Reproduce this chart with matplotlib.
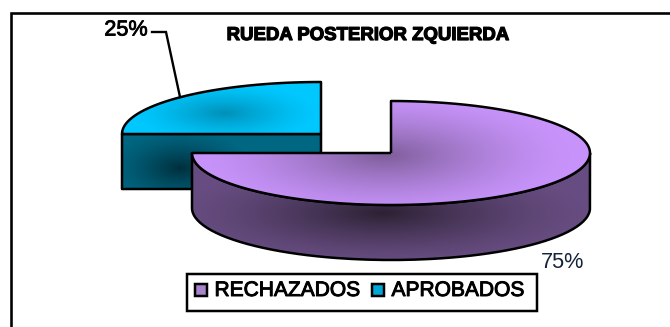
import numpy as np
import matplotlib
matplotlib.use("Agg")
import matplotlib.pyplot as plt
from matplotlib.path import Path
from matplotlib.patches import PathPatch, Rectangle
import matplotlib.patheffects as pe

categories = ["RECHAZADOS", "APROBADOS"]
values = [75, 25]
labels = ["75%", "25%"]
title = "RUEDA POSTERIOR ZQUIERDA"

centers = [(391, 153), (321, 134)]
RX, RY, DEPTH = 199, 52, 55
top_cols = [("#C793FA", "#7E5E9A"), ("#00C8FF", "#0090B8")]
side_cols = [("#664C80", "#2C2133"), ("#006782", "#002F3D")]
top_glow = [(385, 155, 185, 60), (225, 113, 95, 30)]
side_glow = [(383, 213, 200, 50), (180, 168, 75, 40)]
INK = 2.5 * 0.72

fig = plt.figure(figsize=(6.7, 3.27), dpi=100)
ax = fig.add_axes([0, 0, 1, 1])


def rgb(c):
    return np.array(matplotlib.colors.to_rgb(c))


def shade(path, colors, glow):
    gx, gy = np.meshgrid(np.arange(0, 670), np.arange(0, 327))
    d = np.hypot((gx + .5 - glow[0]) / glow[2], (gy + .5 - glow[1]) / glow[3])
    t = np.clip(1 - d, 0, 1)[..., None] ** 1.4
    im = ax.imshow(rgb(colors[0]) * (1 - t) + rgb(colors[1]) * t,
                   extent=(0, 670, 327, 0), interpolation="bilinear", zorder=z[0])
    patch = PathPatch(path, fc="none", ec="k", lw=INK, joinstyle="round", zorder=z[0] + 1)
    ax.add_patch(patch)
    im.set_clip_path(patch)
    z[0] += 2


def arc(c, a0, a1, dy=0):
    a = np.radians(np.linspace(a0, a1, 120))
    return np.c_[c[0] + RX * np.cos(a), c[1] - RY * np.sin(a) + dy]


z = [2]
# slice angles from the values, clockwise from 12 o'clock
fractions = np.array(values) / sum(values)
stops = 90 - 360 * np.cumsum(np.r_[0, fractions])
order = [1, 0]  # the far slice is painted first
for i in order:
    c = centers[i]
    a0, a1 = stops[i], stops[i + 1]
    # side wall
    if i == 0:
        front = arc(c, -180, 0)
    else:
        front = np.array([[c[0] - RX, c[1]], [c[0], c[1]]])
    wall = np.r_[front, (front + [0, DEPTH])[::-1], front[:1]]
    shade(Path(wall), side_cols[i], side_glow[i])
    # top face
    rim = arc(c, a0, a1)
    top = np.r_[[c], rim, [c]]
    shade(Path(top), top_cols[i], top_glow[i])

# frame
ax.plot([11, 11, 672], [330, 13, 13], color="k", lw=2.6 * 0.72, zorder=1,
        solid_joinstyle="miter")

# title and data labels
ax.text(368, 35.5, title, ha="center", va="center", fontsize=13.4, family="Liberation Sans",
        weight="bold", color="k", zorder=30,
        path_effects=[pe.withStroke(linewidth=0.9, foreground="k")])
ax.text(126, 30, labels[1], ha="center", va="center", fontsize=15.6, family="Liberation Sans",
        color="k", zorder=30, path_effects=[pe.withStroke(linewidth=0.6, foreground="k")])
ax.text(563, 262, labels[0], ha="center", va="center", fontsize=15.6, family="Liberation Sans",
        color="#14233A", zorder=30)
ax.plot([152, 166, 180], [32, 32, 97], color="k", lw=1.7, zorder=30, solid_joinstyle="miter")

# legend
ax.add_patch(Rectangle((187, 273.5), 350, 37, fc="white", ec="k", lw=INK, zorder=31))
legend_x = [(195, 215), (372, 392)]
legend_col = ["#A884CC", "#00A8D8"]
for name, (kx, tx), col in zip(categories, legend_x, legend_col):
    ax.add_patch(Rectangle((kx, 284), 12, 12, fc=col, ec="k", lw=INK, zorder=32))
    ax.text(tx - 0.5, 290.5, name, ha="left", va="center", fontsize=15.1, family="Liberation Sans",
            color="k", zorder=32, path_effects=[pe.withStroke(linewidth=0.7, foreground="k")])

ax.set_xlim(0, 670)
ax.set_ylim(327, 0)
ax.set_aspect("auto")
ax.axis("off")
fig.savefig("out.png", dpi=100, facecolor="white")
